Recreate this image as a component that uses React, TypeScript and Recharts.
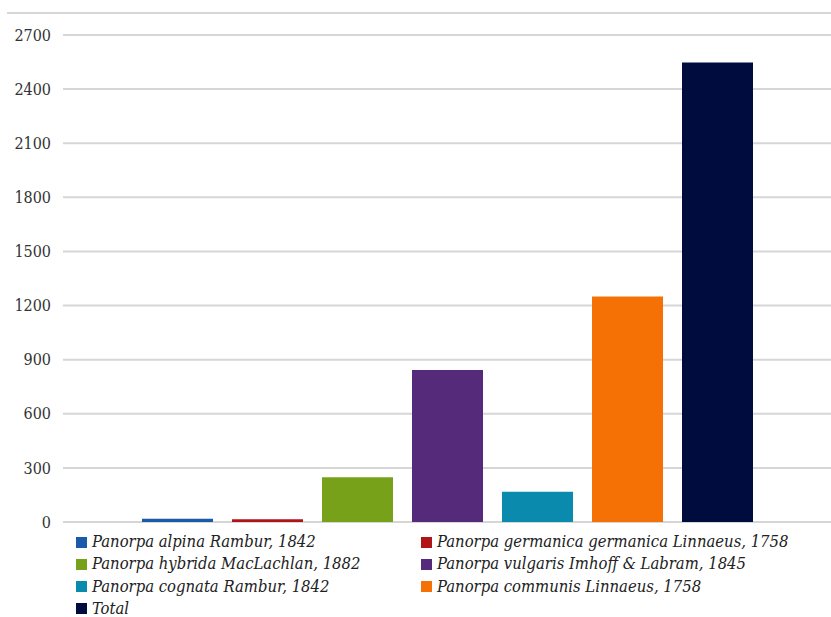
import { BarChart, Bar, XAxis, YAxis, CartesianGrid } from "recharts";

const seriesNames = [
  "Panorpa alpina Rambur, 1842",
  "Panorpa germanica germanica Linnaeus, 1758",
  "Panorpa hybrida MacLachlan, 1882",
  "Panorpa vulgaris Imhoff & Labram, 1845",
  "Panorpa cognata Rambur, 1842",
  "Panorpa communis Linnaeus, 1758",
  "Total",
];
const seriesValues = [18, 15, 248, 843, 168, 1250, 2548];
const seriesColors = ["#1a5aa8", "#b01419", "#78a11a", "#552a7a", "#0a8aad", "#f57005", "#000b3e"];
const yTicks = [0, 300, 600, 900, 1200, 1500, 1800, 2100, 2400, 2700];

const keys = seriesNames.map((_, i) => "s" + i);
const data = [Object.fromEntries(keys.map((k, i) => [k, seriesValues[i]]))];

const font = "'DejaVu Serif Condensed', 'DejaVu Serif', serif";

function LegendBox() {
  return (
    <div
      style={{
        position: "absolute",
        left: 76,
        top: 534,
        display: "grid",
        gridTemplateColumns: "345px 410px",
        rowGap: 6.3,
        fontFamily: font,
        fontStyle: "italic",
        fontSize: 16.5,
        lineHeight: "16px",
        color: "#222",
      }}
    >
      {seriesNames.map((n, i) => (
        <div key={n} style={{ display: "flex", alignItems: "center", whiteSpace: "nowrap" }}>
          <span style={{ display: "inline-block", width: 11, height: 11, background: seriesColors[i], marginRight: 5 }} />
          {n}
        </div>
      ))}
    </div>
  );
}

export default function App() {
  return (
    <div style={{ position: "absolute", left: 0, top: 0, width: 831, height: 617, background: "#fff", overflow: "hidden" }}>
      <div style={{ position: "absolute", left: 7, right: 0, top: 12, borderTop: "2px solid #d6d6d6" }} />
      <BarChart
        width={831}
        height={617}
        data={data}
        barSize={71}
        barGap={19}
        margin={{ top: 35, right: 0, bottom: 95, left: 0 }}
      >
        <CartesianGrid vertical={false} stroke="#d6d6d6" strokeWidth={2} />
        <XAxis dataKey={() => ""} hide />
        <YAxis
          domain={[0, 2700]}
          ticks={yTicks}
          interval={0}
          axisLine={false}
          tickLine={false}
          width={63}
          tickMargin={6}
          tick={{ fill: "#333", fontSize: 16, fontFamily: font }}
        />
        {keys.map((k, i) => (
          <Bar key={k} dataKey={k} name={seriesNames[i]} fill={seriesColors[i]} isAnimationActive={false} />
        ))}
      </BarChart>
      <LegendBox />
    </div>
  );
}
